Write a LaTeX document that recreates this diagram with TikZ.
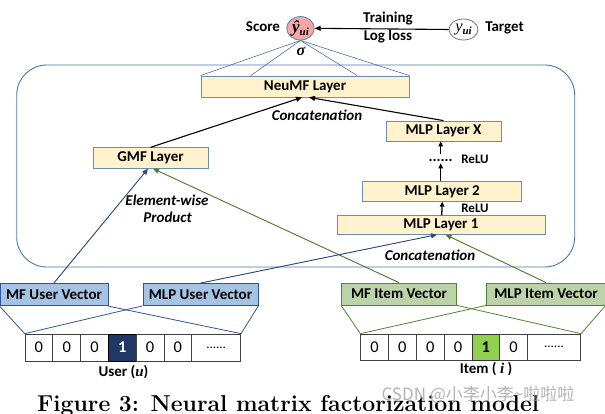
\documentclass[tikz,border=0pt]{standalone}
\usepackage{fontspec}
\usetikzlibrary{shapes.geometric,arrows.meta,calc}
\newfontfamily\carl{Carlito}
\newfontfamily\tnr{Liberation Serif}
\newfontfamily\cjkf{Noto Sans CJK SC}
\newcommand\lyrfont{\carl\bfseries\fontsize{15}{17}\selectfont}
\newcommand\itlfont{\carl\bfseries\itshape\fontsize{15}{17}\selectfont}
\newcommand\relufont{\carl\bfseries\fontsize{13}{15}\selectfont}
\newcommand\cellfont{\carl\fontsize{16.5}{18}\selectfont}
\definecolor{layerfill}{HTML}{FFF2CC}
\definecolor{layerdraw}{HTML}{6A8CB8}
\definecolor{framedraw}{HTML}{4A77A8}
\definecolor{userfill}{HTML}{A5C4E4}
\definecolor{userdraw}{HTML}{2F5597}
\definecolor{itemfill}{HTML}{BCD2A9}
\definecolor{itemdraw}{HTML}{548235}
\definecolor{bluearrow}{HTML}{2B4A80}
\definecolor{greenarrow}{HTML}{4F7A2E}
\definecolor{scorefill}{HTML}{F4A7A7}
\definecolor{scoredraw}{HTML}{5A7FB0}
\definecolor{fanblue}{HTML}{4A6FA5}
\definecolor{onenavy}{HTML}{1F3864}
\definecolor{onegreen}{HTML}{92D050}
\begin{document}
\begin{tikzpicture}[x=1pt,y=-1pt,
 layer/.style={draw=layerdraw, fill=layerfill, line width=0.8pt, inner sep=0pt, font=\lyrfont},
 uvec/.style={draw=userdraw, fill=userfill, line width=0.8pt, inner sep=0pt, font=\lyrfont},
 ivec/.style={draw=itemdraw, fill=itemfill, line width=0.8pt, inner sep=0pt, font=\lyrfont},
 cell/.style={draw=black!75, line width=0.7pt, minimum width=27.8pt, inner sep=0pt, font=\cellfont},
 lbl/.style={inner sep=0pt, font=\lyrfont},
 ilbl/.style={inner sep=0pt, font=\itlfont},
 blk/.style={-{Triangle[length=6pt,width=5pt]}, line width=1.1pt},
 vup/.style={-{Triangle[length=5pt,width=4.5pt]}, line width=1.3pt},
 uarr/.style={-{Triangle[length=6pt,width=5pt]}, line width=0.9pt, draw=bluearrow, fill=bluearrow},
 iarr/.style={-{Triangle[length=6pt,width=5pt]}, line width=0.9pt, draw=greenarrow, fill=greenarrow},
 ufan/.style={draw=userdraw, line width=0.8pt},
 ifan/.style={draw=itemdraw, line width=0.8pt},
 tfan/.style={draw=fanblue, line width=0.6pt}]
\useasboundingbox (0,0) rectangle (605,414);
% frame
\node[draw=framedraw, line width=0.9pt, rounded corners=30pt, minimum width=558pt, minimum height=202pt] (frame) at (295.7,166) {};
% top
\node[ellipse, draw=scoredraw, fill=scorefill, line width=0.8pt, minimum width=27.5pt, minimum height=23.5pt, inner sep=0pt] (score) at (300.5,28.3)
 {{\tnr\bfseries\itshape\fontsize{17}{17}\selectfont ŷ\raisebox{-0.35ex}{\fontsize{11}{11}\selectfont ui}}};
\node[ellipse, draw=black!55, fill=white, line width=0.8pt, minimum width=29pt, minimum height=21pt, inner sep=0pt] (target) at (463.5,29.5)
 {{\tnr\itshape\fontsize{16.5}{16}\selectfont y\raisebox{-0.35ex}{\bfseries\fontsize{11}{11}\selectfont ui}}};
\node[lbl] (scorelbl) at (263,27) {Score};
\node[lbl] (targetlbl) at (504.5,27.5) {Target};
\node[lbl] (training) at (388,19) {Training};
\node[lbl] (logloss) at (388,37) {Log loss};
\node[inner sep=0pt, font=\tnr\bfseries\itshape\fontsize{16}{16}\selectfont] (sigma) at (301,51.5) {σ};
\draw[blk] (target.west) -- (score.east);
% layers
\node[layer, minimum width=208pt, minimum height=21pt] (neumf) at (305,86.5) {NeuMF Layer};
\node[layer, minimum width=115pt, minimum height=20.5pt] (gmf) at (150.5,158) {GMF Layer};
\node[layer, minimum width=115pt, minimum height=20pt] (mlpx) at (443.5,131) {MLP Layer X};
\node[layer, minimum width=159pt, minimum height=19.5pt] (mlp2) at (442.3,191.5) {MLP Layer 2};
\node[layer, minimum width=208pt, minimum height=18.5pt] (mlp1) at (441,225) {MLP Layer 1};
\node[lbl, font=\carl\bfseries\fontsize{15}{15}\selectfont] (dots) at (440.7,160) {......};
\node[lbl, font=\relufont] (relu1) at (475,159.5) {ReLU};
\node[lbl, font=\relufont] (relu2) at (475,208) {ReLU};
\node[ilbl] (concat1) at (317,115) {Concatenation};
\node[ilbl] (concat2) at (430,255) {Concatenation};
\node[ilbl] (elem) at (167,200) {Element-wise};
\node[ilbl] (prod) at (167.6,217) {Product};
% fan to score
\coordinate (f2) at ($(neumf.north west)!0.24!(neumf.north east)$);
\coordinate (f3) at ($(neumf.north west)!0.75!(neumf.north east)$);
\draw[tfan] (score.south) -- (neumf.north west);
\draw[tfan] (score.south) -- (f2);
\draw[tfan] (score.south) -- (f3);
\draw[tfan] (score.south) -- (neumf.north east);
% arrows into NeuMF
\draw[blk] (gmf.north) -- ($(neumf.south)+(-3,0)$);
\draw[blk] (mlpx.north) -- ($(neumf.south)+(4,0)$);
% MLP tower
\draw[vup] ($(mlp1.north)+(0.7,0)$) -- ($(mlp2.south)+(0,0)$);
\draw[vup] ($(mlp2.north)+(-1.6,0)$) -- ($(mlpx.south)+(-2.8,22)$);
\draw[vup] ($(mlpx.south)+(-2.8,13)$) -- ($(mlpx.south)+(-2.8,0)$);
% vector boxes
\node[uvec, minimum width=108pt, minimum height=22.5pt] (mfuser) at (54,294.5) {MF User Vector};
\node[uvec, minimum width=115pt, minimum height=22pt] (mlpuser) at (200.5,294.5) {MLP User Vector};
\node[ivec, minimum width=115pt, minimum height=22pt] (mfitem) at (399,294) {MF Item Vector};
\node[ivec, minimum width=118.5pt, minimum height=22pt] (mlpitem) at (546,294) {MLP Item Vector};
\draw[uarr] (mfuser.north) -- ($(gmf.south)+(-2.5,0)$);
\draw[iarr] (mfitem.north) -- ($(gmf.south)+(2.5,0)$);
\draw[uarr] (mlpuser.north) -- ($(mlp1.south)+(-4,0)$);
\draw[iarr] (mlpitem.north) -- ($(mlp1.south)+(4.5,0)$);
% user cells
\begin{scope}[every node/.append style={minimum height=27pt}]
\node[cell] (uc0) at (38.9,347.5) {0};
\node[cell] (uc1) at (66.7,347.5) {0};
\node[cell] (uc2) at (94.5,347.5) {0};
\node[cell, fill=onenavy, draw=black, text=white, font=\cellfont\bfseries] (uc3) at (122.3,347.5) {1};
\node[cell] (uc4) at (150.1,347.5) {0};
\node[cell] (uc5) at (177.9,347.5) {0};
\node[cell, minimum width=49pt, font=\carl\fontsize{13}{15}\selectfont] (udots) at (216.2,347.5) {......};
\end{scope}
\begin{scope}[every node/.append style={minimum height=26pt}]
\node[cell] (ic0) at (374.6,347) {0};
\node[cell] (ic1) at (402.4,347) {0};
\node[cell] (ic2) at (430.2,347) {0};
\node[cell] (ic3) at (458.0,347) {0};
\node[cell, fill=onegreen, draw=black!80, font=\cellfont\bfseries] (ic4) at (485.8,347) {1};
\node[cell] (ic5) at (513.6,347) {0};
\node[cell, minimum width=53.4pt, font=\carl\fontsize{13}{15}\selectfont] (idots) at (554,347) {......};
\end{scope}
\draw[ufan] (mfuser.south west) -- (uc0.north west);
\draw[ufan] (mfuser.south east) -- (udots.north east);
\draw[ufan] (mlpuser.south west) -- (uc0.north west);
\draw[ufan] (mlpuser.south east) -- (udots.north east);
\draw[ifan] (mfitem.south west) -- (ic0.north west);
\draw[ifan] (mfitem.south east) -- (idots.north east);
\draw[ifan] (mlpitem.south west) -- (ic0.north west);
\draw[ifan] (mlpitem.south east) -- (idots.north east);
\node[lbl] (userlbl) at (123.5,372.5) {User ({\tnr\bfseries\itshape u})};
\node[lbl] (itemlbl) at (486,369.5) {Item ( {\tnr\bfseries\itshape i} )};
% caption
\node[anchor=base west, inner sep=0pt, font=\fontsize{23}{27}\selectfont\bfseries] (cap) at (37,411.5) {Figure 3: Neural matrix factorization model};
\node[inner sep=0pt, text=black!35, opacity=0.85, font=\cjkf\fontsize{17}{17}\selectfont] (wm) at (478,395) {CSDN @小李小李\textasciitilde 啦啦啦};
\end{tikzpicture}
\end{document}
